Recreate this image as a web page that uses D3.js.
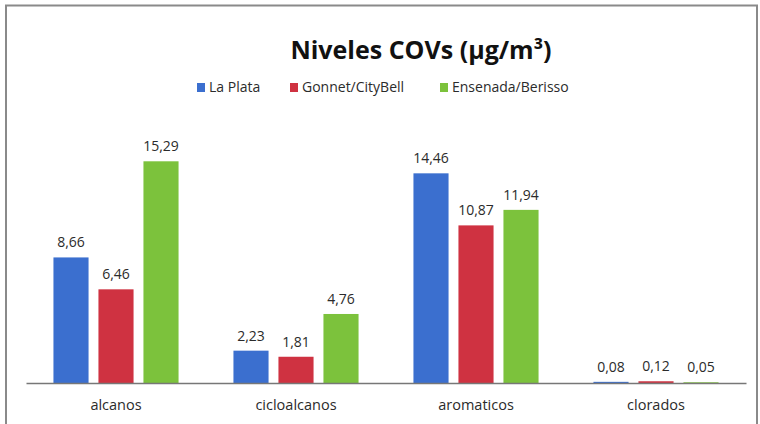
<!DOCTYPE html>
<html>
<head>
<meta charset="utf-8">
<script src="https://cdn.jsdelivr.net/npm/d3@7"></script>
<style>
  html, body { margin: 0; padding: 0; background: #fff; }
  svg { display: block; font-family: "Open Sans", Lato, sans-serif; }
</style>
</head>
<body>
<div class="box"></div>
<script>
// chart data
var categories = ["alcanos", "cicloalcanos", "aromaticos", "clorados"];
var seriesNames = ["La Plata", "Gonnet/CityBell", "Ensenada/Berisso"];
var laPlata = [8.66, 2.23, 14.46, 0.08];
var gonnet = [6.46, 1.81, 10.87, 0.12];
var ensenada = [15.29, 4.76, 11.94, 0.05];
var colors = ["#3b6fcf", "#cf3241", "#7cc23c"];

var values = [laPlata, gonnet, ensenada];

width = 760;
height = 424;
margin = { top: 122, right: 14, bottom: 41, left: 26 };

const svg = d3.create("svg")
    .attr("width", width)
    .attr("height", height)
    .attr("viewBox", [0, 0, width, height]);

// outer frame (gray border, bottom is cut off in the original)
svg.append("path")
    .attr("d", "M6,424 V5.5 H757 V424")
    .attr("fill", "none")
    .attr("stroke", "#8a8a8a")
    .attr("stroke-width", 2);

var x0 = d3.scaleBand(categories, [margin.left, width - margin.right]);
var x1 = d3.scaleBand(d3.range(seriesNames.length), [0, x0.bandwidth()])
    .paddingInner(0.22)
    .paddingOuter(0.61);
var y = d3.scaleLinear([0, 18], [height - margin.bottom, margin.top]);

// bars
var groups = svg.append("g")
    .selectAll("g")
    .data(categories)
    .join("g")
    .attr("transform", d => `translate(${x0(d)},0)`);

groups.selectAll("rect")
    .data((d, ci) => values.map((s, si) => ({ si: si, v: s[ci] })))
    .join("rect")
    .attr("x", d => x1(d.si))
    .attr("y", d => y(d.v))
    .attr("width", x1.bandwidth())
    .attr("height", d => y(0) - y(d.v))
    .attr("fill", d => colors[d.si]);

// value labels
groups.selectAll("text")
    .data((d, ci) => values.map((s, si) => ({ si: si, v: s[ci] })))
    .join("text")
    .attr("x", d => x1(d.si) + x1.bandwidth() / 2)
    .attr("y", d => y(d.v) - 10)
    .attr("text-anchor", "middle")
    .attr("font-size", 14)
    .attr("fill", "#2b2b2b")
    .text(d => d3.format(".2f")(d.v).replace(".", ","));

// x axis
var xAxis = svg.append("g")
    .attr("transform", `translate(0,${y(0)})`)
    .call(d3.axisBottom(x0).tickSize(0).tickPadding(17));
xAxis.select(".domain").attr("stroke", "#777").attr("stroke-width", 1.5);
xAxis.selectAll("text")
    .attr("font-size", 14.5)
    .attr("font-family", "'Open Sans', Lato, sans-serif")
    .attr("fill", "#2b2b2b");

// title
svg.append("text")
    .attr("x", 421)
    .attr("y", 59)
    .attr("text-anchor", "middle")
    .attr("font-size", 25)
    .attr("font-weight", "bold")
    .attr("fill", "#111")
    .text("Niveles COVs (µg/m³)");

// legend
var legendX = [197, 290, 440];
var legend = svg.append("g")
    .selectAll("g")
    .data(seriesNames)
    .join("g")
    .attr("transform", (d, i) => `translate(${legendX[i]},87)`);

legend.append("rect")
    .attr("x", 0)
    .attr("y", -4)
    .attr("width", 8)
    .attr("height", 9)
    .attr("fill", (d, i) => colors[i]);

legend.append("text")
    .attr("x", 12)
    .attr("y", 5)
    .attr("font-size", 14)
    .attr("fill", "#2b2b2b")
    .text(d => d);

document.querySelector(".box").appendChild(svg.node());
</script>
</body>
</html>
